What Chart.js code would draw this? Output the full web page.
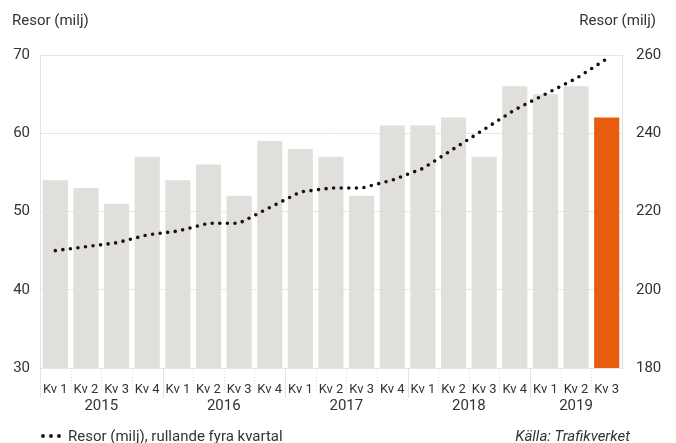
<!DOCTYPE html>
<html>
<head>
<meta charset="utf-8">
<script src="https://cdn.jsdelivr.net/npm/chart.js@4/dist/chart.umd.min.js"></script>
<style>
  html, body { margin: 0; padding: 0; background: #fff; }
  #wrap { position: relative; width: 676px; height: 443px; }
</style>
</head>
<body>
<div id="wrap"><canvas id="chart" width="676" height="443"></canvas></div>
<script>
const quarters = ["Kv 1","Kv 2","Kv 3","Kv 4","Kv 1","Kv 2","Kv 3","Kv 4","Kv 1","Kv 2","Kv 3","Kv 4","Kv 1","Kv 2","Kv 3","Kv 4","Kv 1","Kv 2","Kv 3"];
const years = ["2015","2016","2017","2018","2019"];
const quartersPerYear = [4, 4, 4, 4, 3];
const tripsQuarter = [54, 53, 51, 57, 54, 56, 52, 59, 58, 57, 52, 61, 61, 62, 57, 66, 65, 66, 62];
const tripsRolling = [210, 211, 212, 214, 215, 217, 217, 221, 225, 226, 226, 228, 231, 236, 241, 246, 250, 254, 259];
const leftTicks = [30, 40, 50, 60, 70];
const rightTicks = [180, 200, 220, 240, 260];

const FONT = "Roboto, 'Open Sans', sans-serif";
const TEXT = "#333";
const GRID = "#e6e6e3";

const barColors = tripsQuarter.map((v, i) => i === tripsQuarter.length - 1 ? "#e85c0d" : "#e0dfdc");

// draws the titles, year row, separators and the legend
const extras = {
    id: "extras",
    afterDraw(chart) {
        const ctx = chart.ctx;
        const x = chart.scales.x;
        const area = chart.chartArea;
        const half = (x.getPixelForValue(1) - x.getPixelForValue(0)) / 2;

        ctx.save();
        ctx.lineWidth = 1;
        // quarter separators (dotted)
        ctx.strokeStyle = "#d9d9d9";
        ctx.setLineDash([1, 2]);
        for (let i = 1; i < quarters.length; i++) {
            const px = Math.round(x.getPixelForValue(i) - half) + 0.5;
            ctx.beginPath();
            ctx.moveTo(px, area.bottom);
            ctx.lineTo(px, area.bottom + 24);
            ctx.stroke();
        }
        // year separators (solid)
        ctx.setLineDash([]);
        ctx.strokeStyle = "#e3e3e3";
        let start = 0;
        quartersPerYear.forEach((n, k) => {
            const px = Math.round(x.getPixelForValue(start) - half) + 0.5;
            ctx.beginPath();
            ctx.moveTo(px, area.bottom);
            ctx.lineTo(px, area.bottom + 30);
            ctx.stroke();
            const x0 = x.getPixelForValue(start) - half;
            const x1 = x.getPixelForValue(start + n - 1) + half;
            ctx.fillStyle = TEXT;
            ctx.font = "15px " + FONT;
            ctx.textAlign = "center";
            ctx.textBaseline = "alphabetic";
            ctx.fillText(years[k], (x0 + x1) / 2, area.bottom + 42);
            start += n;
        });

        // axis titles
        ctx.fillStyle = TEXT;
        ctx.font = "15px " + FONT;
        ctx.textAlign = "left";
        ctx.fillText("Resor (milj)", 12, 25);
        ctx.textAlign = "right";
        ctx.fillText("Resor (milj)", 656, 25);

        // legend
        ctx.fillStyle = "#1a1010";
        for (let d = 0; d < 3; d++) {
            ctx.beginPath();
            ctx.arc(43 + d * 8, 436, 1.9, 0, Math.PI * 2);
            ctx.fill();
        }
        ctx.fillStyle = TEXT;
        ctx.textAlign = "left";
        ctx.fillText("Resor (milj), rullande fyra kvartal", 68, 441);
        ctx.textAlign = "right";
        ctx.font = "italic 15px " + FONT;
        ctx.fillText("Källa: Trafikverket", 630, 441);
        ctx.restore();
    }
};

new Chart(document.getElementById("chart"), {
    data: {
        labels: quarters,
        datasets: [
            {
                type: "line",
                label: "Resor (milj), rullande fyra kvartal",
                data: tripsRolling,
                yAxisID: "y1",
                borderColor: "#1a1010",
                borderWidth: 3.6,
                borderDash: [0, 7.6],
                borderCapStyle: "round",
                pointRadius: 0,
                tension: 0,
                order: 0
            },
            {
                type: "bar",
                label: "Resor (milj)",
                data: tripsQuarter,
                yAxisID: "y",
                backgroundColor: barColors,
                barPercentage: 0.82,
                categoryPercentage: 1,
                order: 1
            }
        ]
    },
    options: {
        responsive: false,
        animation: false,
        layout: { padding: { top: 55, left: 0, right: 0, bottom: 0 } },
        plugins: { legend: { display: false }, tooltip: { enabled: false } },
        scales: {
            x: {
                grid: { display: false },
                border: { display: false },
                ticks: {
                    color: TEXT,
                    font: { family: FONT, size: 13 },
                    padding: 6,
                    maxRotation: 0,
                    autoSkip: false
                },
                afterFit(scale) { scale.height = 75; }
            },
            y: {
                position: "left",
                min: 30,
                max: 70,
                afterBuildTicks(scale) { scale.ticks = leftTicks.map(v => ({ value: v })); },
                grid: { color: GRID, drawTicks: false },
                border: { display: true, color: "#e3e3e3" },
                ticks: {
                    color: TEXT,
                    font: { family: FONT, size: 15 },
                    padding: 10
                },
                afterFit(scale) { scale.width = 40; }
            },
            y1: {
                position: "right",
                min: 180,
                max: 260,
                afterBuildTicks(scale) { scale.ticks = rightTicks.map(v => ({ value: v })); },
                grid: { display: false, drawTicks: false },
                border: { display: true, color: "#e3e3e3" },
                ticks: {
                    color: TEXT,
                    font: { family: FONT, size: 15 },
                    padding: 14
                },
                afterFit(scale) { scale.width = 54; }
            }
        }
    },
    plugins: [extras]
});
</script>
</body>
</html>
